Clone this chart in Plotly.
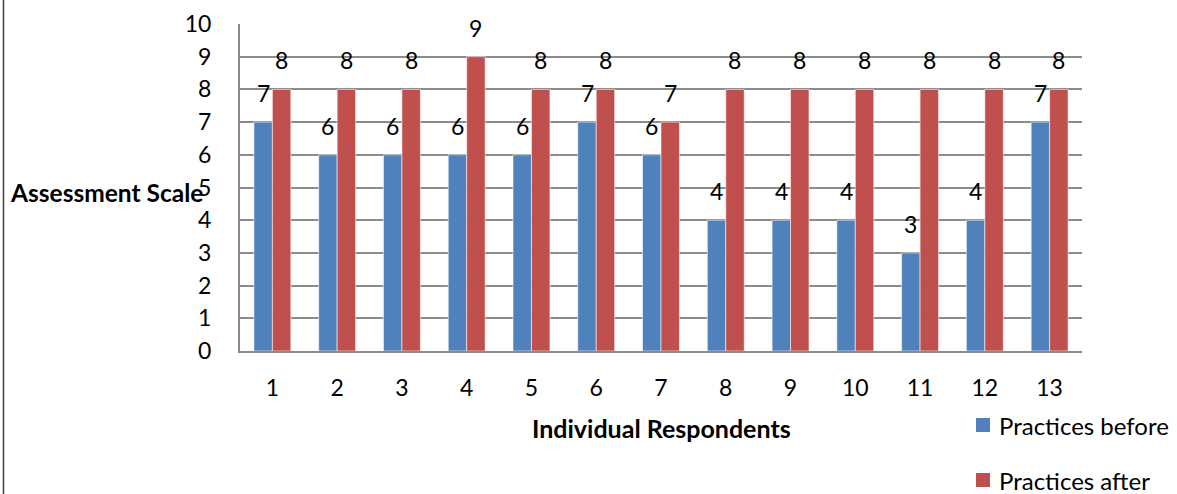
import plotly.graph_objects as go

# Respondent ids and assessment scores before / after the practices
respondents = [str(i) for i in range(1, 14)]
before = [7, 6, 6, 6, 6, 7, 6, 4, 4, 4, 3, 4, 7]
after = [8, 8, 8, 9, 8, 8, 7, 8, 8, 8, 8, 8, 8]
y_ticks = list(range(0, 11))
series_names = ["Practices before", "Practices after"]

W, H = 1177, 494
L, R, T, B = 240, 1082, 24, 351  # plot-area edges in pixels
pw, ph = R - L, B - T

def px_x(p):
    return (p - L) / pw

def px_y(p):
    return (B - p) / ph

FONT = "Lato, Carlito, Calibri, 'DejaVu Sans', sans-serif"
BLUE = "#4F81BD"
RED = "#C0504D"
GRID = "#8c8c8c"
FS = 23
colors = [BLUE, RED]

fig = go.Figure()
for name, vals, col in zip(series_names, [before, after], colors):
    fig.add_trace(go.Bar(
        x=respondents, y=vals, name=name,
        marker=dict(color=col, line=dict(color="rgba(255,255,255,0.7)", width=0.8)),
    ))

bargap = 0.43
bar_px = pw / len(respondents) * (1 - bargap) / 2

annotations = []
# value labels above each bar (x given as category index)
for i, (vb, va) in enumerate(zip(before, after)):
    for v, sh in ((vb, -bar_px / 2), (va, bar_px / 2)):
        annotations.append(dict(x=i, y=v, xref="x", yref="y", text=str(v),
                                showarrow=False, xshift=sh, yshift=13,
                                yanchor="bottom",
                                font=dict(size=FS, color="black", family=FONT)))

# axis titles
annotations.append(dict(x=px_x(205), y=px_y(192), xref="paper", yref="paper",
                        text="<b>Assessment Scale</b>", showarrow=False,
                        xanchor="right", yanchor="middle",
                        font=dict(size=24.5, color="black", family=FONT)))
annotations.append(dict(x=px_x(661), y=px_y(428), xref="paper", yref="paper",
                        text="<b>Individual Respondents</b>", showarrow=False,
                        xanchor="center", yanchor="middle",
                        font=dict(size=25, color="black", family=FONT)))

# legend: colour key squares with their series names
shapes = []
for k, (name, col) in enumerate(zip(series_names, colors)):
    cy = 425 + k * 55
    shapes.append(dict(type="rect", xref="paper", yref="paper",
                       x0=px_x(976), x1=px_x(990), y0=px_y(cy - 7), y1=px_y(cy + 7),
                       fillcolor=col, line=dict(width=0)))
    annotations.append(dict(x=px_x(997), y=px_y(cy), xref="paper", yref="paper",
                            text=name, showarrow=False, xanchor="left", yanchor="middle",
                            font=dict(size=24, color="black", family=FONT)))

# frame edge on the left side
shapes.append(dict(type="line", xref="paper", yref="paper",
                   x0=px_x(3.5), x1=px_x(3.5), y0=px_y(H + 5), y1=px_y(-5),
                   line=dict(color="#404040", width=1.5)))

fig.update_layout(
    width=W, height=H,
    margin=dict(l=L, r=W - R, t=T, b=H - B, pad=0, autoexpand=False),
    paper_bgcolor="white", plot_bgcolor="white",
    barmode="group", bargap=bargap, bargroupgap=0,
    font=dict(family=FONT, size=FS, color="black"),
    annotations=annotations,
    shapes=shapes,
    showlegend=False,
)

fig.update_xaxes(
    type="category", showgrid=False, showline=True, linecolor=GRID, linewidth=2,
    ticks="", ticklabelstandoff=15, tickfont=dict(size=FS, family=FONT, color="black"),
)
fig.update_yaxes(
    range=[0, 10], tickvals=y_ticks, showgrid=True, gridcolor=GRID, gridwidth=1.5,
    showline=True, linecolor=GRID, linewidth=2, zeroline=False,
    ticks="", ticklabelstandoff=22, tickfont=dict(size=FS, family=FONT, color="black"),
)

fig.write_html("out.html")
